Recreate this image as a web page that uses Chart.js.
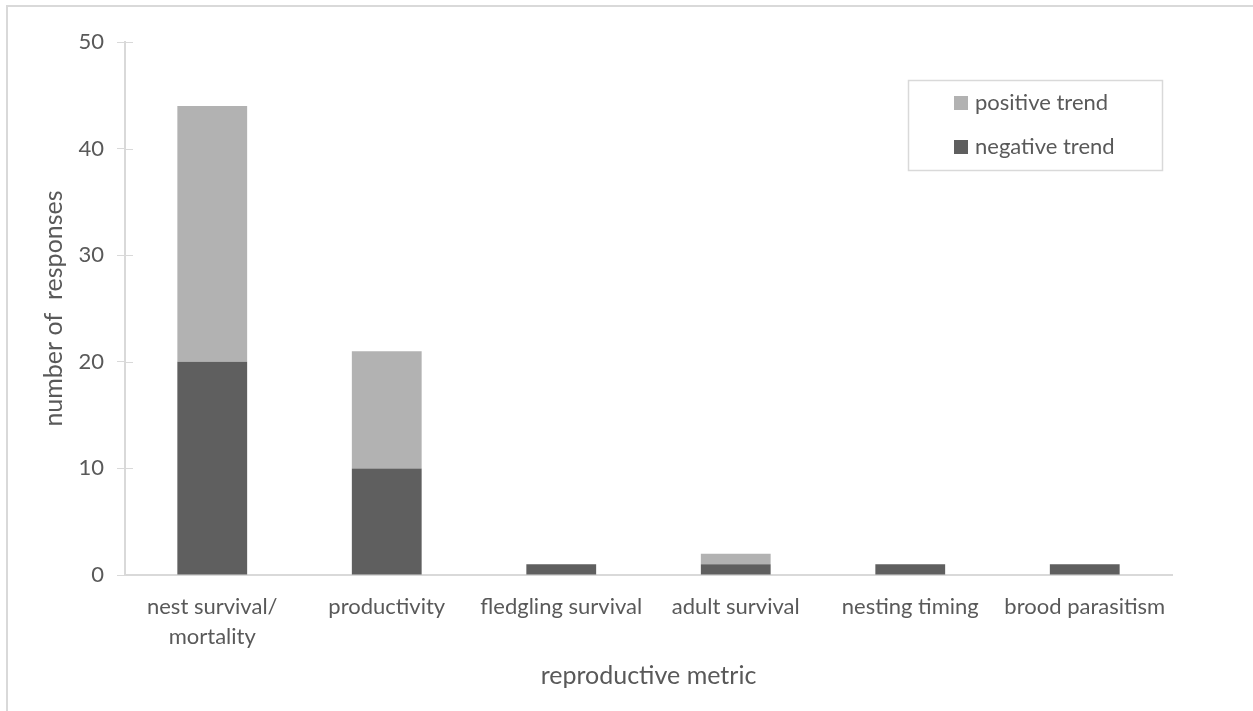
<!DOCTYPE html>
<html>
<head>
<meta charset="utf-8">
<script src="https://cdn.jsdelivr.net/npm/chart.js@4"></script>
<style>
  html, body { margin: 0; padding: 0; background: #ffffff; overflow: hidden; }
  #frame { position: absolute; left: 6px; top: 5px; width: 1400px; height: 900px;
           border: 2px solid #d9d9d9; box-sizing: border-box; }
  #wrap { position: absolute; left: 0; top: 0; width: 1253px; height: 711px; }
</style>
</head>
<body>
<div id="frame"></div>
<div id="wrap"><canvas id="chart" width="1253" height="711"></canvas></div>
<script>
// Reproductive metrics and response counts
const categories = [
  ['nest survival/', 'mortality'],
  'productivity',
  'fledgling survival',
  'adult survival',
  'nesting timing',
  'brood parasitism'
];
const negativeTrend = [20, 10, 1, 1, 1, 1];
const positiveTrend = [24, 11, 0, 1, 0, 0];
const yTicks = [0, 10, 20, 30, 40, 50];

const TEXT = '#595959';
const LINE = '#d9d9d9';
const FONT = 'Lato, "Open Sans", sans-serif';
const SIZE = 22;
const TITLE_SIZE = 25;

// Short tick marks crossing the value axis (inner half)
const innerTicks = {
  id: 'innerTicks',
  afterDraw(chart) {
    const y = chart.scales.y;
    const ctx = chart.ctx;
    ctx.save();
    ctx.strokeStyle = LINE;
    ctx.lineWidth = 1;
    y.ticks.forEach(t => {
      const py = Math.round(y.getPixelForValue(t.value)) + 0.5;
      ctx.beginPath();
      ctx.moveTo(y.right, py);
      ctx.lineTo(y.right + 8, py);
      ctx.stroke();
    });
    ctx.restore();
  }
};

// Boxed legend in the upper right of the plot
const boxLegend = {
  id: 'boxLegend',
  afterDraw(chart) {
    const ctx = chart.ctx;
    const x0 = 908, y0 = 80, w = 254, h = 90;
    ctx.save();
    ctx.fillStyle = '#ffffff';
    ctx.fillRect(x0, y0, w, h);
    ctx.strokeStyle = LINE;
    ctx.lineWidth = 1.5;
    ctx.strokeRect(x0 + 0.5, y0 + 0.5, w, h);
    const items = chart.data.datasets.slice().reverse();
    ctx.font = SIZE + 'px ' + FONT;
    ctx.textBaseline = 'middle';
    items.forEach((ds, i) => {
      const cy = y0 + 23 + i * 44;
      ctx.fillStyle = ds.backgroundColor;
      ctx.fillRect(x0 + 46, cy - 7, 14, 14);
      ctx.fillStyle = TEXT;
      ctx.fillText(ds.label, x0 + 67, cy);
    });
    ctx.restore();
  }
};

new Chart(document.getElementById('chart'), {
  type: 'bar',
  data: {
    labels: categories,
    datasets: [
      { label: 'negative trend', data: negativeTrend, backgroundColor: '#5f5f5f',
        categoryPercentage: 1.0, barPercentage: 0.4 },
      { label: 'positive trend', data: positiveTrend, backgroundColor: '#b2b2b2',
        categoryPercentage: 1.0, barPercentage: 0.4 }
    ]
  },
  options: {
    responsive: false,
    animation: false,
    layout: { padding: { top: 42, right: 81, left: 0, bottom: 0 } },
    plugins: { legend: { display: false }, tooltip: { enabled: false } },
    scales: {
      x: {
        stacked: true,
        grid: { display: false, drawTicks: false },
        border: { display: true, color: LINE, width: 2 },
        ticks: { color: TEXT, font: { family: FONT, size: SIZE, lineHeight: 1.36 }, padding: 17,
                  autoSkip: false, maxRotation: 0 },
        title: { display: true, text: 'reproductive metric', color: TEXT,
                 font: { family: FONT, size: TITLE_SIZE }, padding: { top: 0, bottom: 20 } },
        afterFit(scale) { scale.height = 136; }
      },
      y: {
        stacked: true,
        min: 0, max: 50,
        afterBuildTicks(scale) { scale.ticks = yTicks.map(v => ({ value: v })); },
        grid: { drawOnChartArea: false, drawTicks: true, tickLength: 8, color: LINE },
        border: { display: true, color: LINE, width: 2 },
        ticks: { color: TEXT, font: { family: FONT, size: SIZE }, padding: 13 },
        title: { display: true, text: 'number of  responses', color: TEXT,
                 font: { family: FONT, size: TITLE_SIZE }, padding: { top: 39, bottom: 0 } },
        afterFit(scale) { scale.width = 125; }
      }
    }
  },
  plugins: [innerTicks, boxLegend]
});
</script>
</body>
</html>
